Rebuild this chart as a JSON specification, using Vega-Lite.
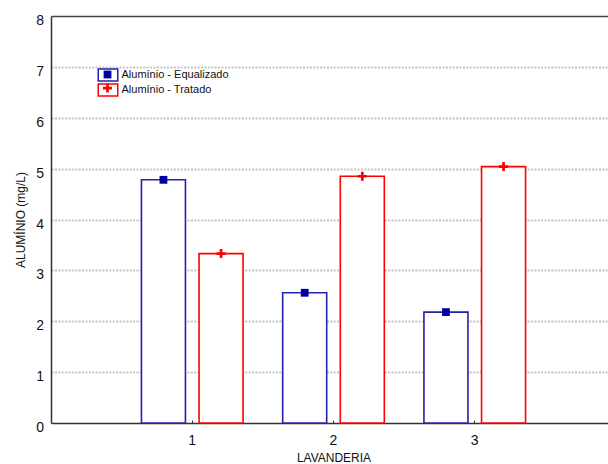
{
  "$schema": "https://vega.github.io/schema/vega-lite/v6.json",
  "autosize": {"type": "none"},
  "padding": {"left": 51, "top": 16, "right": 0, "bottom": 41},
  "width": 557,
  "height": 407,
  "background": "white",
  "config": {
    "font": "Liberation Sans",
    "view": {"stroke": null},
    "axis": {"labelColor": "#111", "titleColor": "#111", "titleFontWeight": "normal"}
  },
  "data": {
    "values": [
      {"lavanderia": 1, "serie": "Alumínio - Equalizado", "valor": 4.78},
      {"lavanderia": 1, "serie": "Alumínio - Tratado", "valor": 3.33},
      {"lavanderia": 2, "serie": "Alumínio - Equalizado", "valor": 2.56},
      {"lavanderia": 2, "serie": "Alumínio - Tratado", "valor": 4.85},
      {"lavanderia": 3, "serie": "Alumínio - Equalizado", "valor": 2.18},
      {"lavanderia": 3, "serie": "Alumínio - Tratado", "valor": 5.04}
    ]
  },
  "encoding": {
    "x": {
      "field": "lavanderia",
      "type": "ordinal",
      "scale": {"type": "band", "domain": [1, 2, 3], "range": [0, 565], "paddingInner": 0, "paddingOuter": 0.5},
      "axis": {
        "title": "LAVANDERIA",
        "titleFontSize": 12,
        "titleY": 38.5,
        "titleBaseline": "alphabetic",
        "labelAngle": 0,
        "labelFontSize": 14,
        "labelBaseline": "alphabetic",
        "labelPadding": 24,
        "ticks": true,
        "tickSize": -3,
        "tickColor": "#333",
        "domainColor": "#333",
        "domainWidth": 1.5,
        "grid": false
      }
    },
    "xOffset": {
      "field": "serie",
      "type": "nominal",
      "scale": {"paddingInner": 0.236, "paddingOuter": 0.344}
    },
    "y": {
      "field": "valor",
      "type": "quantitative",
      "scale": {"domain": [0, 8], "nice": false, "zero": true},
      "axis": {
        "title": "ALUMÍNIO (mg/L)",
        "titleFontSize": 12,
        "titleX": -31,
        "titleY": 203.5,
        "titleAnchor": "middle",
        "titleBaseline": "middle",
        "titleAngle": -90,
        "values": [0, 1, 2, 3, 4, 5, 6, 7, 8],
        "labelFontSize": 14,
        "labelBaseline": "alphabetic",
        "labelOffset": 8.5,
        "labelPadding": 7.5,
        "ticks": false,
        "domainColor": "#333",
        "domainWidth": 1.5,
        "grid": true,
        "gridColor": {"condition": {"test": "datum.value == 8", "value": "#444"}, "value": "#c4c4c4"},
        "gridDash": {"condition": {"test": "datum.value == 8", "value": []}, "value": [2, 1.4]},
        "gridWidth": {"condition": {"test": "datum.value == 8", "value": 1.5}, "value": 2},
        "gridOpacity": {"condition": {"test": "datum.value == 0", "value": 0}, "value": 1}
      }
    }
  },
  "layer": [
    {
      "mark": {"type": "bar", "fill": "white", "strokeWidth": 1.6},
      "encoding": {
        "stroke": {
          "field": "serie",
          "type": "nominal",
          "scale": {"range": ["#2222aa", "#ff0000"]},
          "legend": {
            "title": null,
            "orient": "none",
            "legendX": 51,
            "legendY": 53,
            "padding": 0,
            "symbolType": "M-1.95,-1.2H1.95V1.2H-1.95Z",
            "symbolSize": 100,
            "symbolFillColor": "transparent",
            "symbolStrokeWidth": 1.5,
            "labelFont": "Liberation Sans",
            "labelFontSize": 11,
            "labelColor": "#111",
            "labelOffset": 7.5,
            "rowPadding": -5
          }
        }
      }
    },
    {
      "mark": {"type": "point", "filled": true, "size": 100, "opacity": 1, "strokeWidth": 0},
      "encoding": {
        "fill": {
          "field": "serie",
          "type": "nominal",
          "scale": {"range": ["#0000a0", "#ff0000"]},
          "legend": {
            "title": null,
            "orient": "none",
            "legendX": 51,
            "legendY": 53,
            "padding": 0,
            "symbolSize": 100,
            "symbolStrokeWidth": 0,
            "labelFontSize": 11,
            "labelExpr": "''",
            "labelOffset": 9,
            "rowPadding": 1.6
          }
        },
        "shape": {
          "field": "serie",
          "type": "nominal",
          "scale": {
            "range": [
              "M-0.78,-0.78H0.78V0.78H-0.78Z",
              "M-0.27,-0.9H0.27V-0.27H0.9V0.27H0.27V0.9H-0.27V0.27H-0.9V-0.27H-0.27Z"
            ]
          },
          "legend": {
            "title": null,
            "orient": "none",
            "legendX": 51,
            "legendY": 53,
            "padding": 0,
            "symbolSize": 100,
            "labelFontSize": 11,
            "labelExpr": "''",
            "labelOffset": 9,
            "rowPadding": 1.6
          }
        }
      }
    }
  ]
}
